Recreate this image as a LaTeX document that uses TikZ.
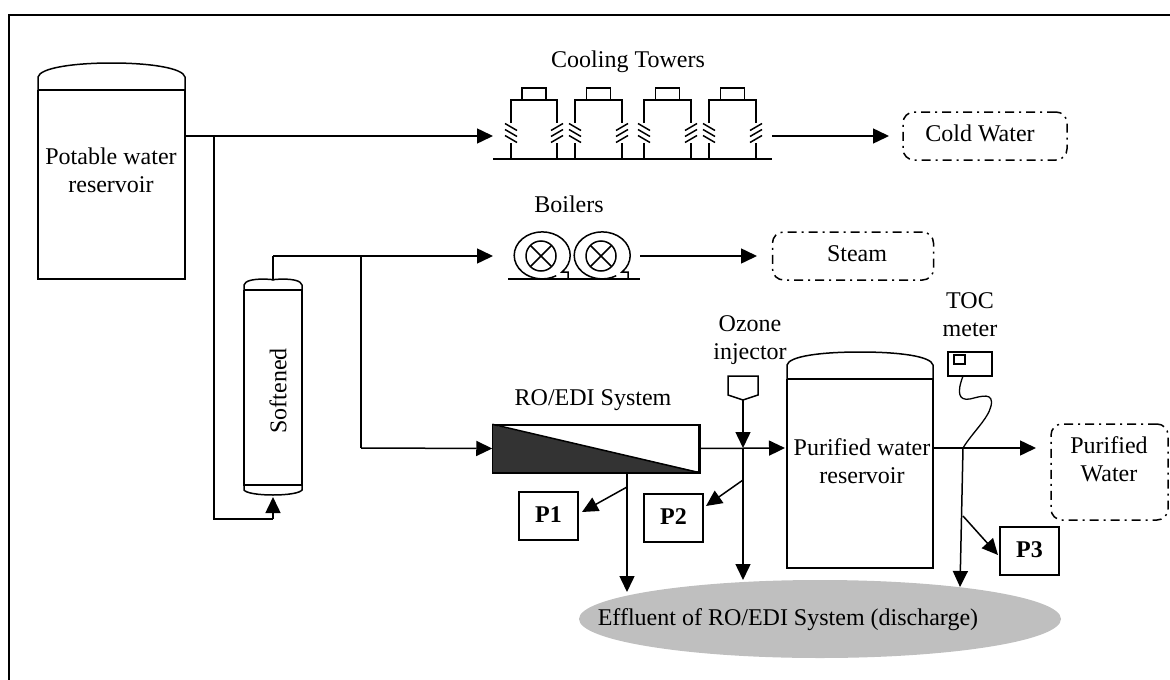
\documentclass[tikz,border=0pt]{standalone}
\usepackage{fontspec}
\setmainfont{Liberation Serif}
\usetikzlibrary{arrows.meta,shapes.geometric}
\tikzset{
	every node/.style={font=\fontsize{24}{28}\selectfont, align=center, inner sep=0pt},
	pipe/.style={line width=1.5pt, -{Triangle[length=16pt,width=15pt]}},
	line/.style={line width=1.5pt},
	thin line/.style={line width=1.3pt},
	sample/.style={draw, line width=1.3pt, minimum width=59pt, minimum height=48pt, text depth=3pt, font=\fontsize{24}{28}\selectfont\bfseries},
	product/.style={draw, line width=1.5pt, rounded corners=11pt, dash pattern=on 9pt off 5pt on 2pt off 5pt}
}
\newcommand{\tank}[5]{% left, right, dome top, shoulder, seam
	\draw[line] (#1,#5) -- (#1,#4) .. controls (#1+2,#4-9) and (#1+35,#3) .. ({(#1+#2)/2},#3) .. controls (#2-35,#3) and (#2-2,#4-9) .. (#2,#4) -- (#2,#5);
	\draw[line] (#1,#5) -- (#2,#5);
}
\newcommand{\breakmark}[3]{% x, y, slope sign
	\foreach \d in {-6,0,6}
		\draw[line] (#1-6,#2+\d-#3*3.5) -- (#1+6,#2+\d+#3*3.5);
}
\newcommand{\tower}[2]{% left, right
	\draw[line] (#1,159) -- (#1,143);
	\draw[line] (#2,159) -- (#2,143);
	\draw[line] (#1,123) -- (#1,100) -- (#2,100) -- (#2,123);
	\draw[thin line] ({(#1+#2)/2-12},100) -- ({(#1+#2)/2-12},88) -- ({(#1+#2)/2+12},88) -- ({(#1+#2)/2+12},100);
	\breakmark{#1}{133}{1}
	\breakmark{#2}{133}{-1}
}
\newcommand{\boiler}[1]{% centre x
	\draw[line] (#1+27,279) -- (#1+27,272) -- (#1+21,272)
		arc[start angle=-45, end angle=300, x radius=28, y radius=-23.5];
	\draw[line] (#1,256) circle (15);
	\draw[line] (#1-10.6,245.4) -- (#1+10.6,266.6);
	\draw[line] (#1-10.6,266.6) -- (#1+10.6,245.4);
}
\begin{document}
\begin{tikzpicture}[x=1pt, y=-1pt, line join=miter]
	\useasboundingbox (0,0) rectangle (1170,680);
	\draw[line] (9,680) -- (9,15) -- (1170,15);

	% tanks
	\tank{38}{185}{63}{77}{90}
	\draw[line] (38,90) -- (38,279) -- (185,279) -- (185,90);
	\tank{244}{302}{280}{285}{290}
	\draw[line] (244,290) -- (244,485) -- (302,485) -- (302,290);
	\draw[line] (244,485) -- (244,490) .. controls (246,493) and (258,495) .. (273,495) .. controls (288,495) and (300,493) .. (302,490) -- (302,485);
	\tank{787}{933}{352}{365}{379}
	\draw[line] (787,379) -- (787,568) -- (933,568) -- (933,379);

	% towers
	\tower{511}{557}
	\tower{575}{622}
	\tower{644}{691}
	\tower{709}{756}
	\draw[line] (493,159) -- (772,159);

	% boilers
	\boiler{541}
	\boiler{601}
	\draw[line] (508,279) -- (640,279);

	% named points
	\coordinate (tankout) at (185,136);
	\coordinate (j1) at (214,136);
	\coordinate (j2) at (214,519);
	\coordinate (j3) at (273,519);
	\coordinate (softin) at (273,497);
	\coordinate (softout) at (273,280);
	\coordinate (j4) at (273,256);
	\coordinate (j5) at (361,256);
	\coordinate (j6) at (361,448);
	\coordinate (towerin) at (493,136);
	\coordinate (towerout) at (772,136);
	\coordinate (boilerin) at (493,256);
	\coordinate (boilerout) at (640,256);
	\coordinate (steamin) at (757,256);
	\coordinate (coldin) at (889,136);
	\coordinate (j7) at (627,487);
	\coordinate (j8) at (743,448);
	\coordinate (j9) at (743,480);
	\coordinate (j10) at (963,448);
	\coordinate (j11) at (963,516);
	\coordinate (p1in) at (582,512);
	\coordinate (p2in) at (706,506);
	\coordinate (p3in) at (998,555);
	\coordinate (pw) at (785,448);
	\coordinate (pwout) at (933,448);
	\coordinate (prodin) at (1036,448);
	\coordinate (dis1) at (627,592);
	\coordinate (dis2) at (743,580);
	\coordinate (dis3) at (960,587);

	% process units
	\node[draw, line width=1.5pt, minimum width=206pt, minimum height=47pt] (ro) at (596,448.5) {};
	\fill[black!80] (493,425) -- (699,472) -- (493,472) -- cycle;
	\draw[line] (ro.north west) -- (ro.south east);
	\draw[line] (ro.north west) rectangle (ro.south east);
	\node[draw, shape=rectangle, line width=1.5pt, minimum width=44pt, minimum height=24pt] (toc) at (970,364) {};
	\draw[thin line] (954,355) rectangle (965,364);
	\coordinate (ozone) at (743,400);
	\draw[line] (728,376) -- (758,376) -- (758,395) -- (ozone) -- (728,395) -- cycle;
	\draw[line width=1.3pt] (963,376) .. controls (957,392) and (958,401) .. (970,399) .. controls (982,396) and (994,392) .. (991,406) .. controls (988,419) and (972,433) .. (j10);

	% sinks and samples
	\node[product, minimum width=164pt, minimum height=48pt] (cold) at (985,136) {};
	\node at (980,133) {Cold Water};
	\node[product, minimum width=161pt, minimum height=48pt] (steam) at (853,256) {};
	\node at (857,254) {Steam};
	\node[product, minimum width=117pt, minimum height=96pt] (purified) at (1109.5,472) {};
	\node at (1109,459) {Purified\\Water};
	\node[sample] (p1) at (548.5,516) {P1};
	\node[sample] (p2) at (673.5,518) {P2};
	\node[sample] (p3) at (1029.5,551) {P3};
	\node[ellipse, fill=black!25, minimum width=482pt, minimum height=78pt] (eff) at (820,619) {};
	\node at (788,620) {Effluent of RO/EDI System (discharge)};

	% labels
	\node at (111,170) {Potable water\\reservoir};
	\node[rotate=90] at (278,391) {Softened};
	\node at (628,62) {Cooling Towers};
	\node at (569,204) {Boilers};
	\node at (593,400) {RO/EDI System};
	\node at (750,340) {Ozone\\injector};
	\node at (970,315) {TOC\\meter};
	\node at (862,461) {Purified water\\reservoir};

	% pipes
	\draw[line] (tankout) -- (j1) -- (j2) -- (j3);
	\draw[pipe] (j3) -- (softin);
	\draw[pipe] (j1) -- (towerin);
	\draw[pipe] (towerout) -- (coldin);
	\draw[line] (softout) -- (j4);
	\draw[pipe] (j4) -- (boilerin);
	\draw[pipe] (boilerout) -- (steamin);
	\draw[line] (j5) -- (j6);
	\draw[pipe] (j6) -- (ro.west);
	\draw[pipe] (ro.east) -- (pw);
	\draw[pipe] (ozone) -- (j8);
	\draw[pipe] (j8) -- (dis2);
	\draw[pipe] (j9) -- (p2in);
	\draw[pipe] (ro.south -| j7) -- (dis1);
	\draw[pipe] (j7) -- (p1in);
	\draw[pipe] (pwout) -- (prodin);
	\draw[pipe] (j10) -- (dis3);
	\draw[pipe] (j11) -- (p3in);
\end{tikzpicture}
\end{document}
